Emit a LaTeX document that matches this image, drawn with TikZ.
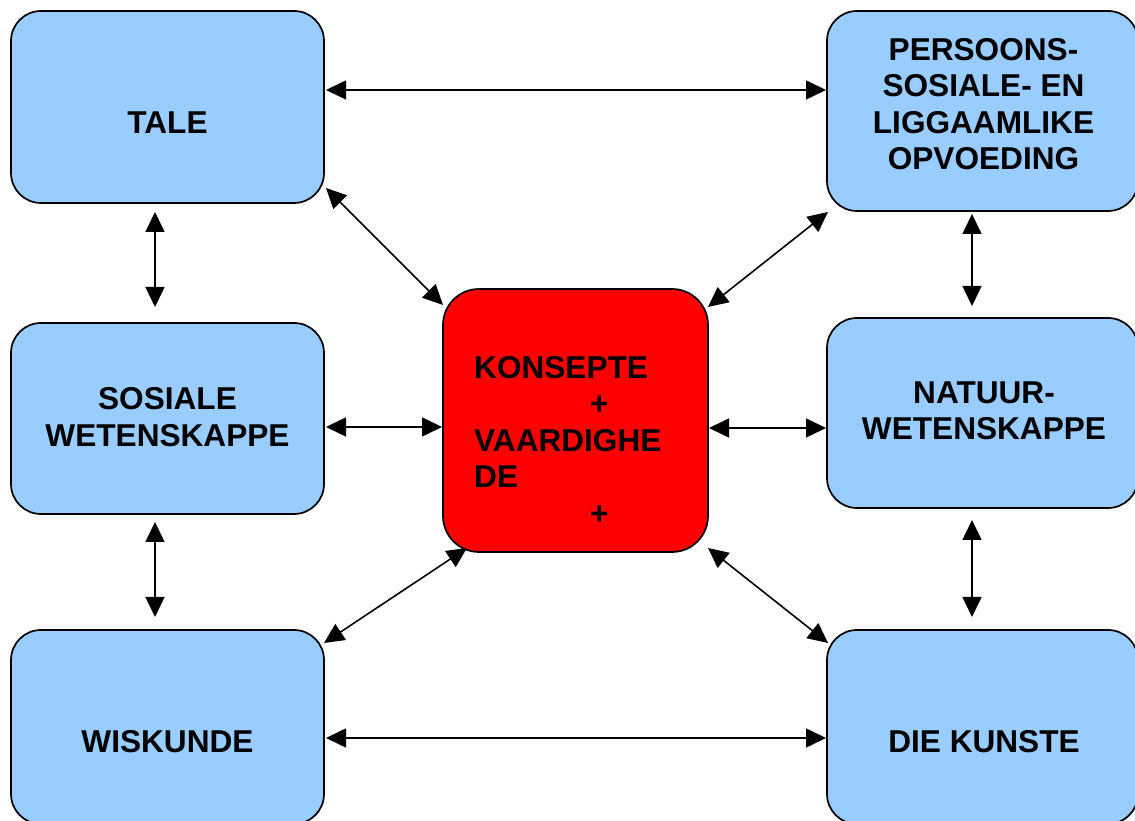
\documentclass[tikz,border=0pt]{standalone}
\usepackage{fontspec}
\setmainfont{Liberation Sans}
\usetikzlibrary{arrows.meta}
\definecolor{boxblue}{HTML}{99CCFF}
\definecolor{boxred}{HTML}{FF0000}
\begin{document}
\begin{tikzpicture}[x=1pt,y=1pt,
  subj/.style={draw=black, line width=1.7pt, fill=boxblue, rounded corners=30pt, inner sep=0pt, outer sep=0pt},
  core/.style={draw=black, line width=1.7pt, fill=boxred, rounded corners=36pt, inner sep=0pt, outer sep=0pt, minimum width=265pt, minimum height=263pt},
  lbl/.style={font=\fontsize{31.6}{36.5}\selectfont\bfseries, align=center, inner sep=0pt},
  arr/.style={line width=1.6pt, {Triangle[length=20pt,width=19pt]}-{Triangle[length=20pt,width=19pt]}}]
\clip (0,0) rectangle (1135,821);
\fill[white] (0,0) rectangle (1135,821);
% boxes
\node[subj, minimum width=313pt, minimum height=192pt] (tale) at (167.5,714) {};
\node[subj, minimum width=311pt, minimum height=200pt] (pers) at (982.5,710) {};
\node[subj, minimum width=313pt, minimum height=191pt] (sos) at (167.5,402.5) {};
\node[subj, minimum width=311pt, minimum height=190pt] (nat) at (982.5,408) {};
\node[subj, minimum width=313pt, minimum height=194pt] (wis) at (167.5,94) {};
\node[subj, minimum width=311pt, minimum height=194pt] (kun) at (982.5,94) {};
\node[core] (ctr) at (575.5,400.5) {};
% labels
\node[lbl] (taleT) at (167.5,698) {TALE};
\node[lbl] (persT) at (983.5,717) {PERSOONS-\\SOSIALE- EN\\LIGGAAMLIKE\\OPVOEDING};
\node[lbl] (sosT) at (167.5,404) {SOSIALE\\WETENSKAPPE};
\node[lbl] (natT) at (984,410) {NATUUR-\\WETENSKAPPE};
\node[lbl] (wisT) at (167.5,79) {WISKUNDE};
\node[lbl] (kunT) at (984,79) {DIE KUNSTE};
\node[lbl, align=left, anchor=west] (ctrT) at (474,381) {KONSEPTE\\\hspace*{116pt}+\\VAARDIGHE\\DE\\\hspace*{116pt}+};
% connectors
\draw[arr] ([shift={(2,17)}]tale.east) -- ([shift={(-1,21)}]pers.west);
\draw[arr] ([shift={(-12.5,-9)}]tale.south) -- ([shift={(-12.5,16)}]sos.north);
\draw[arr] ([shift={(-10.5,-3)}]pers.south) -- ([shift={(-10.5,12)}]nat.north);
\draw[arr] ([shift={(2,-8.5)}]sos.east) -- ([shift={(-1,-6.5)}]ctr.west);
\draw[arr] ([shift={(1,-7.5)}]ctr.east) -- ([shift={(-1,-15)}]nat.west);
\draw[arr] ([shift={(-12.5,-8)}]sos.south) -- ([shift={(-12.5,13)}]wis.north);
\draw[arr] ([shift={(-10.5,-12)}]nat.south) -- ([shift={(-10.5,13)}]kun.north);
\draw[arr] ([shift={(2,-11)}]wis.east) -- ([shift={(-1,-11)}]kun.west);
\draw[arr] ([shift={(2,15)}]tale.south east) -- ([shift={(0,-16)}]ctr.north west);
\draw[arr] ([shift={(1,-1)}]pers.south west) -- ([shift={(0,-18)}]ctr.north east);
\draw[arr] ([shift={(0,-13)}]wis.north east) -- ([shift={(24,4)}]ctr.south west);
\draw[arr] ([shift={(1,-13)}]kun.north west) -- ([shift={(0,4)}]ctr.south east);
\end{tikzpicture}
\end{document}
